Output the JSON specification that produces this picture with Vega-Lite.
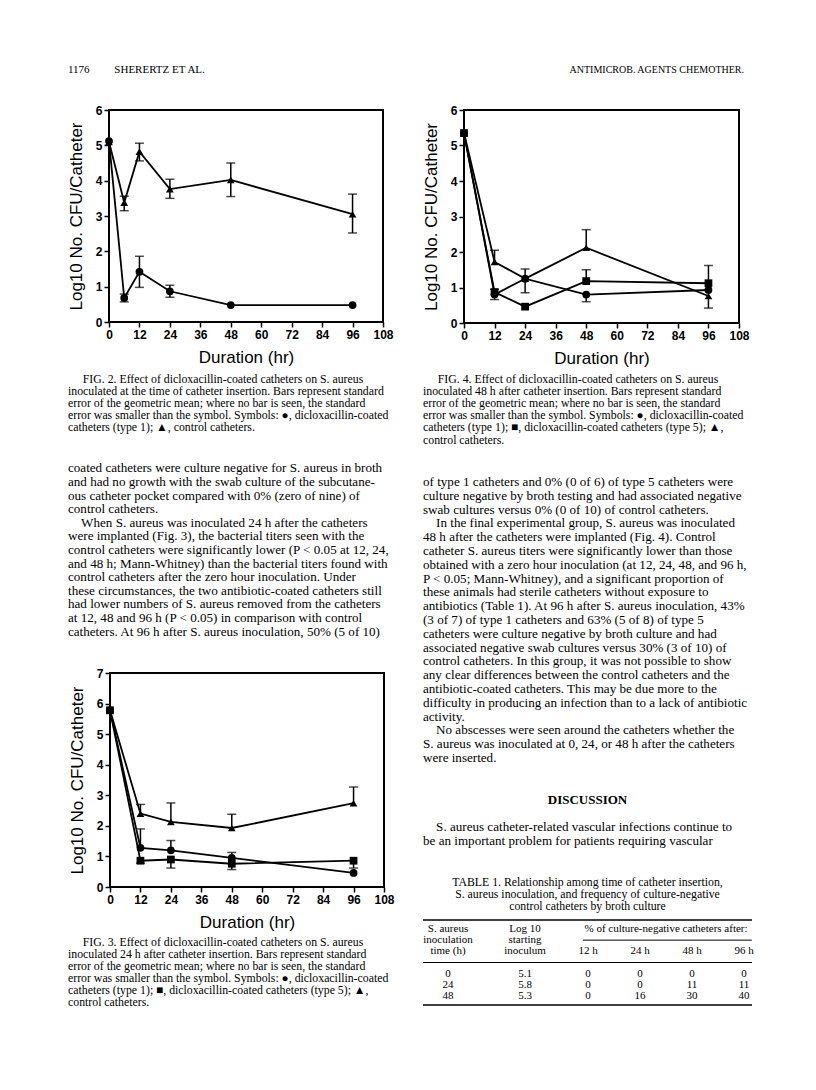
{
  "$schema": "https://vega.github.io/schema/vega-lite/v6.json",
  "background": "white",
  "padding": {"left": 66, "top": 63, "right": 10, "bottom": 10},
  "config": {
    "view": {"stroke": null},
    "axis": {"domain": false, "grid": false, "ticks": true, "tickColor": "black", "tickSize": 5, "tickWidth": 1.5,
      "labelFont": "Liberation Sans", "labelFontSize": 12, "labelFontWeight": "bold", "labelColor": "black", "labelPadding": 2,
      "labelFlush": false, "labelOverlap": false, "labelBound": false,
      "titleFont": "Liberation Sans", "titleFontSize": 17, "titleFontWeight": "normal", "titleColor": "black"},
    "axisX": {"titlePadding": 9.5},
    "axisY": {"titlePadding": 10},
    "text": {"font": "Liberation Serif", "color": "black"}
  },
  "datasets": {
    "fig2": [
      {"series": "circle", "t": 0, "v": 5.12},
      {"series": "circle", "t": 6, "v": 0.68, "lo": 0.57, "hi": 0.79},
      {"series": "circle", "t": 12, "v": 1.42, "lo": 0.98, "hi": 1.86},
      {"series": "circle", "t": 24, "v": 0.87, "lo": 0.7, "hi": 1.04},
      {"series": "circle", "t": 48, "v": 0.48},
      {"series": "circle", "t": 96, "v": 0.48},
      {"series": "triangle", "t": 0, "v": 5.1},
      {"series": "triangle", "t": 6, "v": 3.38, "lo": 3.15, "hi": 3.56},
      {"series": "triangle", "t": 12, "v": 4.82, "lo": 4.56, "hi": 5.06},
      {"series": "triangle", "t": 24, "v": 3.76, "lo": 3.5, "hi": 4.04},
      {"series": "triangle", "t": 48, "v": 4.02, "lo": 3.55, "hi": 4.5},
      {"series": "triangle", "t": 96, "v": 3.05, "lo": 2.52, "hi": 3.62}
    ],
    "fig3": [
      {"series": "circle", "t": 0, "v": 5.78},
      {"series": "circle", "t": 12, "v": 1.28, "lo": 1.28, "hi": 1.9},
      {"series": "circle", "t": 24, "v": 1.2, "lo": 1.2, "hi": 1.52},
      {"series": "circle", "t": 48, "v": 0.95, "lo": 0.95, "hi": 1.13},
      {"series": "circle", "t": 96, "v": 0.46},
      {"series": "square", "t": 0, "v": 5.78},
      {"series": "square", "t": 12, "v": 0.86, "lo": 0.78, "hi": 0.86},
      {"series": "square", "t": 24, "v": 0.9, "lo": 0.62, "hi": 0.9},
      {"series": "square", "t": 48, "v": 0.76, "lo": 0.57, "hi": 0.76},
      {"series": "square", "t": 96, "v": 0.86, "lo": 0.62, "hi": 0.86},
      {"series": "triangle", "t": 0, "v": 5.78},
      {"series": "triangle", "t": 12, "v": 2.4, "lo": 2.4, "hi": 2.7},
      {"series": "triangle", "t": 24, "v": 2.13, "lo": 2.13, "hi": 2.75},
      {"series": "triangle", "t": 48, "v": 1.93, "lo": 1.93, "hi": 2.38},
      {"series": "triangle", "t": 96, "v": 2.74, "lo": 2.74, "hi": 3.27}
    ],
    "fig4": [
      {"series": "circle", "t": 0, "v": 5.35},
      {"series": "circle", "t": 12, "v": 0.8, "lo": 0.66, "hi": 0.95},
      {"series": "circle", "t": 24, "v": 1.25},
      {"series": "circle", "t": 48, "v": 0.8, "lo": 0.6, "hi": 0.8},
      {"series": "circle", "t": 96, "v": 0.93},
      {"series": "square", "t": 0, "v": 5.35},
      {"series": "square", "t": 12, "v": 0.87},
      {"series": "square", "t": 24, "v": 0.46},
      {"series": "square", "t": 48, "v": 1.18, "lo": 1.18, "hi": 1.5},
      {"series": "square", "t": 96, "v": 1.12, "lo": 1.12, "hi": 1.62},
      {"series": "triangle", "t": 0, "v": 5.35},
      {"series": "triangle", "t": 12, "v": 1.72, "lo": 1.72, "hi": 2.05},
      {"series": "triangle", "t": 24, "v": 1.25, "lo": 0.85, "hi": 1.52},
      {"series": "triangle", "t": 48, "v": 2.12, "lo": 2.12, "hi": 2.63},
      {"series": "triangle", "t": 96, "v": 0.76, "lo": 0.42, "hi": 0.76}
    ],
    "cap2": [
      {"line": 0, "text": "\u200d\u2003\u2005FIG. 2. Effect of dicloxacillin-coated catheters on S. aureus"},
      {"line": 1, "text": "inoculated at the time of catheter insertion. Bars represent standard"},
      {"line": 2, "text": "error of the geometric mean; where no bar is seen, the standard"},
      {"line": 3, "text": "error was smaller than the symbol. Symbols: \u25cf, dicloxacillin-coated"},
      {"line": 4, "text": "catheters (type 1); \u25b2, control catheters."}
    ],
    "cap3": [
      {"line": 0, "text": "\u200d\u2003\u2005FIG. 3. Effect of dicloxacillin-coated catheters on S. aureus"},
      {"line": 1, "text": "inoculated 24 h after catheter insertion. Bars represent standard"},
      {"line": 2, "text": "error of the geometric mean; where no bar is seen, the standard"},
      {"line": 3, "text": "error was smaller than the symbol. Symbols: \u25cf, dicloxacillin-coated"},
      {"line": 4, "text": "catheters (type 1); \u25a0, dicloxacillin-coated catheters (type 5); \u25b2,"},
      {"line": 5, "text": "control catheters."}
    ],
    "cap4": [
      {"line": 0, "text": "\u200d\u2003\u2005FIG. 4. Effect of dicloxacillin-coated catheters on S. aureus"},
      {"line": 1, "text": "inoculated 48 h after catheter insertion. Bars represent standard"},
      {"line": 2, "text": "error of the geometric mean; where no bar is seen, the standard"},
      {"line": 3, "text": "error was smaller than the symbol. Symbols: \u25cf, dicloxacillin-coated"},
      {"line": 4, "text": "catheters (type 1); \u25a0, dicloxacillin-coated catheters (type 5); \u25b2,"},
      {"line": 5, "text": "control catheters."}
    ],
    "bodyL": [
      {"line": 0, "text": "coated catheters were culture negative for S. aureus in broth"},
      {"line": 1, "text": "and had no growth with the swab culture of the subcutane-"},
      {"line": 2, "text": "ous catheter pocket compared with 0% (zero of nine) of"},
      {"line": 3, "text": "control catheters."},
      {"line": 4, "text": "\u200d\u2003When S. aureus was inoculated 24 h after the catheters"},
      {"line": 5, "text": "were implanted (Fig. 3), the bacterial titers seen with the"},
      {"line": 6, "text": "control catheters were significantly lower (P < 0.05 at 12, 24,"},
      {"line": 7, "text": "and 48 h; Mann-Whitney) than the bacterial titers found with"},
      {"line": 8, "text": "control catheters after the zero hour inoculation. Under"},
      {"line": 9, "text": "these circumstances, the two antibiotic-coated catheters still"},
      {"line": 10, "text": "had lower numbers of S. aureus removed from the catheters"},
      {"line": 11, "text": "at 12, 48 and 96 h (P < 0.05) in comparison with control"},
      {"line": 12, "text": "catheters. At 96 h after S. aureus inoculation, 50% (5 of 10)"}
    ],
    "bodyR": [
      {"line": 0, "text": "of type 1 catheters and 0% (0 of 6) of type 5 catheters were"},
      {"line": 1, "text": "culture negative by broth testing and had associated negative"},
      {"line": 2, "text": "swab cultures versus 0% (0 of 10) of control catheters."},
      {"line": 3, "text": "\u200d\u2003In the final experimental group, S. aureus was inoculated"},
      {"line": 4, "text": "48 h after the catheters were implanted (Fig. 4). Control"},
      {"line": 5, "text": "catheter S. aureus titers were significantly lower than those"},
      {"line": 6, "text": "obtained with a zero hour inoculation (at 12, 24, 48, and 96 h,"},
      {"line": 7, "text": "P < 0.05; Mann-Whitney), and a significant proportion of"},
      {"line": 8, "text": "these animals had sterile catheters without exposure to"},
      {"line": 9, "text": "antibiotics (Table 1). At 96 h after S. aureus inoculation, 43%"},
      {"line": 10, "text": "(3 of 7) of type 1 catheters and 63% (5 of 8) of type 5"},
      {"line": 11, "text": "catheters were culture negative by broth culture and had"},
      {"line": 12, "text": "associated negative swab cultures versus 30% (3 of 10) of"},
      {"line": 13, "text": "control catheters. In this group, it was not possible to show"},
      {"line": 14, "text": "any clear differences between the control catheters and the"},
      {"line": 15, "text": "antibiotic-coated catheters. This may be due more to the"},
      {"line": 16, "text": "difficulty in producing an infection than to a lack of antibiotic"},
      {"line": 17, "text": "activity."},
      {"line": 18, "text": "\u200d\u2003No abscesses were seen around the catheters whether the"},
      {"line": 19, "text": "S. aureus was inoculated at 0, 24, or 48 h after the catheters"},
      {"line": 20, "text": "were inserted."}
    ],
    "disc": [
      {"line": 0, "text": "\u200d\u2003S. aureus catheter-related vascular infections continue to"},
      {"line": 1, "text": "be an important problem for patients requiring vascular"}
    ],
    "ttitle": [
      {"line": 0, "text": "TABLE 1. Relationship among time of catheter insertion,"},
      {"line": 1, "text": "S. aureus inoculation, and frequency of culture-negative"},
      {"line": 2, "text": "control catheters by broth culture"}
    ],
    "table": [
      {"col": 1, "slot": "h1", "text": "S. aureus"},
      {"col": 1, "slot": "h2", "text": "inoculation"},
      {"col": 1, "slot": "h3", "text": "time (h)"},
      {"col": 2, "slot": "h1", "text": "Log 10"},
      {"col": 2, "slot": "h2", "text": "starting"},
      {"col": 2, "slot": "h3", "text": "inoculum"},
      {"col": 4.5, "slot": "h1", "text": "% of culture-negative catheters after:"},
      {"col": 3, "slot": "h3", "text": "12 h"},
      {"col": 4, "slot": "h3", "text": "24 h"},
      {"col": 5, "slot": "h3", "text": "48 h"},
      {"col": 6, "slot": "h3", "text": "96 h"},
      {"col": 1, "slot": "r1", "text": "0"},
      {"col": 2, "slot": "r1", "text": "5.1"},
      {"col": 3, "slot": "r1", "text": "0"},
      {"col": 4, "slot": "r1", "text": "0"},
      {"col": 5, "slot": "r1", "text": "0"},
      {"col": 6, "slot": "r1", "text": "0"},
      {"col": 1, "slot": "r2", "text": "24"},
      {"col": 2, "slot": "r2", "text": "5.8"},
      {"col": 3, "slot": "r2", "text": "0"},
      {"col": 4, "slot": "r2", "text": "0"},
      {"col": 5, "slot": "r2", "text": "11"},
      {"col": 6, "slot": "r2", "text": "11"},
      {"col": 1, "slot": "r3", "text": "48"},
      {"col": 2, "slot": "r3", "text": "5.3"},
      {"col": 3, "slot": "r3", "text": "0"},
      {"col": 4, "slot": "r3", "text": "16"},
      {"col": 5, "slot": "r3", "text": "30"},
      {"col": 6, "slot": "r3", "text": "40"}
    ]
  },
  "spacing": 26,
  "vconcat": [
    {
      "width": 676, "height": 14,
      "layer": [
        {"data": {"values": [{"text": "1176\u2003\u2003\u2005SHERERTZ ET AL."}]},
         "mark": {"type": "text", "align": "left", "fontSize": 11},
         "encoding": {"x": {"value": 0}, "text": {"field": "text"}}},
        {"data": {"values": [{"text": "ANTIMICROB. AGENTS CHEMOTHER."}]},
         "mark": {"type": "text", "align": "right", "fontSize": 10},
         "encoding": {"x": {"value": "width"}, "text": {"field": "text"}}}
      ]
    },
    {
      "spacing": 13,
      "hconcat": [
        {
          "spacing": 26.5,
          "vconcat": [
            {
              "spacing": 5.4,
              "vconcat": [
                {
                  "bounds": "flush", "spacing": 0,
                  "hconcat": [
                    {"width": 41, "height": 212, "data": {"values": [{"text": ""}]}, "mark": "text", "encoding": {"text": {"field": "text"}}},
                    {
                      "width": 274, "height": 212,
                      "view": {"stroke": "black", "strokeWidth": 2},
                      "data": {"name": "fig2"},
                      "encoding": {
                        "x": {"field": "t", "type": "quantitative", "scale": {"domain": [0, 108], "nice": false, "zero": false}, "axis": {"values": [0, 12, 24, 36, 48, 60, 72, 84, 96, 108]}, "title": "Duration (hr)"}
                      },
                      "layer": [
                        {"mark": {"type": "line", "color": "black", "strokeWidth": 1.8},
                         "encoding": {"y": {"field": "v", "type": "quantitative", "scale": {"domain": [0, 6], "nice": false, "zero": false}, "axis": {"values": [0, 1, 2, 3, 4, 5, 6]}, "title": "Log10 No. CFU/Catheter"}, "detail": {"field": "series"}}},
                        {"transform": [{"filter": "isValid(datum.lo)"}],
                         "mark": {"type": "rule", "color": "black", "strokeWidth": 1.5},
                         "encoding": {"y": {"field": "lo", "type": "quantitative", "scale": {"domain": [0, 6], "nice": false, "zero": false}, "axis": {"values": [0, 1, 2, 3, 4, 5, 6]}, "title": "Log10 No. CFU/Catheter"}, "y2": {"field": "hi"}}},
                        {"transform": [{"filter": "isValid(datum.hi) && datum.hi > datum.v"}],
                         "mark": {"type": "tick", "orient": "horizontal", "size": 9, "thickness": 1.5, "color": "black"},
                         "encoding": {"y": {"field": "hi", "type": "quantitative", "scale": {"domain": [0, 6], "nice": false, "zero": false}, "axis": {"values": [0, 1, 2, 3, 4, 5, 6]}, "title": "Log10 No. CFU/Catheter"}}},
                        {"transform": [{"filter": "isValid(datum.lo) && datum.lo < datum.v"}],
                         "mark": {"type": "tick", "orient": "horizontal", "size": 9, "thickness": 1.5, "color": "black"},
                         "encoding": {"y": {"field": "lo", "type": "quantitative", "scale": {"domain": [0, 6], "nice": false, "zero": false}, "axis": {"values": [0, 1, 2, 3, 4, 5, 6]}, "title": "Log10 No. CFU/Catheter"}}},
                        {"mark": {"type": "point", "filled": true, "opacity": 1, "color": "black", "size": 60},
                         "encoding": {"y": {"field": "v", "type": "quantitative", "scale": {"domain": [0, 6], "nice": false, "zero": false}, "axis": {"values": [0, 1, 2, 3, 4, 5, 6]}, "title": "Log10 No. CFU/Catheter"},
                           "shape": {"field": "series", "type": "nominal", "scale": {"domain": ["circle", "square", "triangle"], "range": ["circle", "square", "triangle-up"]}, "legend": null}}}
                      ]
                    }
                  ]
                },
                {
                  "width": 340, "height": 61,
                  "data": {"name": "cap2"},
                  "mark": {"type": "text", "align": "left", "baseline": "middle", "fontSize": 11.8},
                  "encoding": {"x": {"value": 0}, "y": {"field": "line", "type": "ordinal", "scale": {"type": "point", "padding": 0.5}, "axis": null}, "text": {"field": "text"}}
                }
              ]
            },
            {
              "width": 340, "height": 176.8,
              "data": {"name": "bodyL"},
              "mark": {"type": "text", "align": "left", "baseline": "middle", "fontSize": 13.1},
              "encoding": {"x": {"value": 0}, "y": {"field": "line", "type": "ordinal", "scale": {"type": "point", "padding": 0.5}, "axis": null}, "text": {"field": "text"}}
            },
            {
              "spacing": 3.5,
              "vconcat": [
                {
                  "bounds": "flush", "spacing": 0,
                  "hconcat": [
                    {"width": 42, "height": 214, "data": {"values": [{"text": ""}]}, "mark": "text", "encoding": {"text": {"field": "text"}}},
                    {
                      "width": 274, "height": 214,
                      "view": {"stroke": "black", "strokeWidth": 2},
                      "data": {"name": "fig3"},
                      "encoding": {
                        "x": {"field": "t", "type": "quantitative", "scale": {"domain": [0, 108], "nice": false, "zero": false}, "axis": {"values": [0, 12, 24, 36, 48, 60, 72, 84, 96, 108]}, "title": "Duration (hr)"}
                      },
                      "layer": [
                        {"mark": {"type": "line", "color": "black", "strokeWidth": 1.8},
                         "encoding": {"y": {"field": "v", "type": "quantitative", "scale": {"domain": [0, 7], "nice": false, "zero": false}, "axis": {"values": [0, 1, 2, 3, 4, 5, 6, 7]}, "title": "Log10 No. CFU/Catheter"}, "detail": {"field": "series"}}},
                        {"transform": [{"filter": "isValid(datum.lo)"}],
                         "mark": {"type": "rule", "color": "black", "strokeWidth": 1.5},
                         "encoding": {"y": {"field": "lo", "type": "quantitative", "scale": {"domain": [0, 7], "nice": false, "zero": false}, "axis": {"values": [0, 1, 2, 3, 4, 5, 6, 7]}, "title": "Log10 No. CFU/Catheter"}, "y2": {"field": "hi"}}},
                        {"transform": [{"filter": "isValid(datum.hi) && datum.hi > datum.v"}],
                         "mark": {"type": "tick", "orient": "horizontal", "size": 9, "thickness": 1.5, "color": "black"},
                         "encoding": {"y": {"field": "hi", "type": "quantitative", "scale": {"domain": [0, 7], "nice": false, "zero": false}, "axis": {"values": [0, 1, 2, 3, 4, 5, 6, 7]}, "title": "Log10 No. CFU/Catheter"}}},
                        {"transform": [{"filter": "isValid(datum.lo) && datum.lo < datum.v"}],
                         "mark": {"type": "tick", "orient": "horizontal", "size": 9, "thickness": 1.5, "color": "black"},
                         "encoding": {"y": {"field": "lo", "type": "quantitative", "scale": {"domain": [0, 7], "nice": false, "zero": false}, "axis": {"values": [0, 1, 2, 3, 4, 5, 6, 7]}, "title": "Log10 No. CFU/Catheter"}}},
                        {"mark": {"type": "point", "filled": true, "opacity": 1, "color": "black", "size": 60},
                         "encoding": {"y": {"field": "v", "type": "quantitative", "scale": {"domain": [0, 7], "nice": false, "zero": false}, "axis": {"values": [0, 1, 2, 3, 4, 5, 6, 7]}, "title": "Log10 No. CFU/Catheter"},
                           "shape": {"field": "series", "type": "nominal", "scale": {"domain": ["circle", "square", "triangle"], "range": ["circle", "square", "triangle-up"]}, "legend": null}}}
                      ]
                    }
                  ]
                },
                {
                  "width": 340, "height": 72.6,
                  "data": {"name": "cap3"},
                  "mark": {"type": "text", "align": "left", "baseline": "middle", "fontSize": 11.8},
                  "encoding": {"x": {"value": 0}, "y": {"field": "line", "type": "ordinal", "scale": {"type": "point", "padding": 0.5}, "axis": null}, "text": {"field": "text"}}
                }
              ]
            }
          ]
        },
        {
          "spacing": 28,
          "vconcat": [
            {
              "spacing": 4.4,
              "vconcat": [
                {
                  "bounds": "flush", "spacing": 0,
                  "hconcat": [
                    {"width": 41, "height": 213, "data": {"values": [{"text": ""}]}, "mark": "text", "encoding": {"text": {"field": "text"}}},
                    {
                      "width": 275, "height": 213,
                      "view": {"stroke": "black", "strokeWidth": 2},
                      "data": {"name": "fig4"},
                      "encoding": {
                        "x": {"field": "t", "type": "quantitative", "scale": {"domain": [0, 108], "nice": false, "zero": false}, "axis": {"values": [0, 12, 24, 36, 48, 60, 72, 84, 96, 108]}, "title": "Duration (hr)"}
                      },
                      "layer": [
                        {"mark": {"type": "line", "color": "black", "strokeWidth": 1.8},
                         "encoding": {"y": {"field": "v", "type": "quantitative", "scale": {"domain": [0, 6], "nice": false, "zero": false}, "axis": {"values": [0, 1, 2, 3, 4, 5, 6]}, "title": "Log10 No. CFU/Catheter"}, "detail": {"field": "series"}}},
                        {"transform": [{"filter": "isValid(datum.lo)"}],
                         "mark": {"type": "rule", "color": "black", "strokeWidth": 1.5},
                         "encoding": {"y": {"field": "lo", "type": "quantitative", "scale": {"domain": [0, 6], "nice": false, "zero": false}, "axis": {"values": [0, 1, 2, 3, 4, 5, 6]}, "title": "Log10 No. CFU/Catheter"}, "y2": {"field": "hi"}}},
                        {"transform": [{"filter": "isValid(datum.hi) && datum.hi > datum.v"}],
                         "mark": {"type": "tick", "orient": "horizontal", "size": 9, "thickness": 1.5, "color": "black"},
                         "encoding": {"y": {"field": "hi", "type": "quantitative", "scale": {"domain": [0, 6], "nice": false, "zero": false}, "axis": {"values": [0, 1, 2, 3, 4, 5, 6]}, "title": "Log10 No. CFU/Catheter"}}},
                        {"transform": [{"filter": "isValid(datum.lo) && datum.lo < datum.v"}],
                         "mark": {"type": "tick", "orient": "horizontal", "size": 9, "thickness": 1.5, "color": "black"},
                         "encoding": {"y": {"field": "lo", "type": "quantitative", "scale": {"domain": [0, 6], "nice": false, "zero": false}, "axis": {"values": [0, 1, 2, 3, 4, 5, 6]}, "title": "Log10 No. CFU/Catheter"}}},
                        {"mark": {"type": "point", "filled": true, "opacity": 1, "color": "black", "size": 60},
                         "encoding": {"y": {"field": "v", "type": "quantitative", "scale": {"domain": [0, 6], "nice": false, "zero": false}, "axis": {"values": [0, 1, 2, 3, 4, 5, 6]}, "title": "Log10 No. CFU/Catheter"},
                           "shape": {"field": "series", "type": "nominal", "scale": {"domain": ["circle", "square", "triangle"], "range": ["circle", "square", "triangle-up"]}, "legend": null}}}
                      ]
                    }
                  ]
                },
                {
                  "width": 329, "height": 73.2,
                  "data": {"name": "cap4"},
                  "mark": {"type": "text", "align": "left", "baseline": "middle", "fontSize": 11.8},
                  "encoding": {"x": {"value": 0}, "y": {"field": "line", "type": "ordinal", "scale": {"type": "point", "padding": 0.5}, "axis": null}, "text": {"field": "text"}}
                }
              ]
            },
            {
              "width": 329, "height": 289.8,
              "data": {"name": "bodyR"},
              "mark": {"type": "text", "align": "left", "baseline": "middle", "fontSize": 13.1},
              "encoding": {"x": {"value": 0}, "y": {"field": "line", "type": "ordinal", "scale": {"type": "point", "padding": 0.5}, "axis": null}, "text": {"field": "text"}}
            },
            {
              "spacing": 13.2,
              "vconcat": [
                {
                  "width": 329, "height": 14,
                  "data": {"values": [{"text": "DISCUSSION"}]},
                  "mark": {"type": "text", "fontWeight": "bold", "fontSize": 13},
                  "encoding": {"text": {"field": "text"}}
                },
                {
                  "width": 329, "height": 27.2,
                  "data": {"name": "disc"},
                  "mark": {"type": "text", "align": "left", "baseline": "middle", "fontSize": 13.1},
                  "encoding": {"x": {"value": 0}, "y": {"field": "line", "type": "ordinal", "scale": {"type": "point", "padding": 0.5}, "axis": null}, "text": {"field": "text"}}
                }
              ]
            },
            {
              "spacing": 6,
              "vconcat": [
                {
                  "width": 329, "height": 36,
                  "data": {"name": "ttitle"},
                  "mark": {"type": "text", "align": "center", "baseline": "middle", "fontSize": 11.8},
                  "encoding": {"y": {"field": "line", "type": "ordinal", "scale": {"type": "point", "padding": 0.5}, "axis": null}, "text": {"field": "text"}}
                },
                {
                  "width": 329, "height": 85,
                  "layer": [
                    {
                      "data": {"name": "table"},
                      "mark": {"type": "text", "align": "center", "baseline": "middle", "fontSize": 11},
                      "encoding": {
                        "x": {"field": "col", "type": "quantitative", "scale": {"domain": [1, 2, 3, 6], "range": [25, 102, 165, 321], "zero": false, "nice": false}, "axis": null},
                        "y": {"field": "slot", "type": "ordinal", "scale": {"type": "point", "domain": ["h1", "h2", "h3", "mid", "r1", "r2", "r3"], "padding": 0.8}, "axis": null},
                        "text": {"field": "text"}
                      }
                    },
                    {
                      "data": {"values": [{"rule": "top"}]},
                      "mark": {"type": "rule", "color": "black", "strokeWidth": 1.5},
                      "encoding": {"x": {"value": 0}, "x2": {"value": "width"}, "y": {"value": 0}}
                    },
                    {
                      "data": {"values": [{"rule": "middle"}]},
                      "mark": {"type": "rule", "color": "black", "strokeWidth": 1.2},
                      "encoding": {"x": {"value": 0}, "x2": {"value": "width"}, "y": {"datum": "mid", "type": "ordinal"}}
                    },
                    {
                      "data": {"values": [{"rule": "bottom"}]},
                      "mark": {"type": "rule", "color": "black", "strokeWidth": 1.5},
                      "encoding": {"x": {"value": 0}, "x2": {"value": "width"}, "y": {"value": "height"}}
                    },
                    {
                      "data": {"values": [{"rule": "span"}]},
                      "mark": {"type": "rule", "color": "black", "strokeWidth": 1},
                      "encoding": {"x": {"datum": 2.92}, "x2": {"datum": 6.15}, "y": {"datum": "h2", "type": "ordinal"}}
                    }
                  ]
                }
              ]
            }
          ]
        }
      ]
    }
  ]
}
